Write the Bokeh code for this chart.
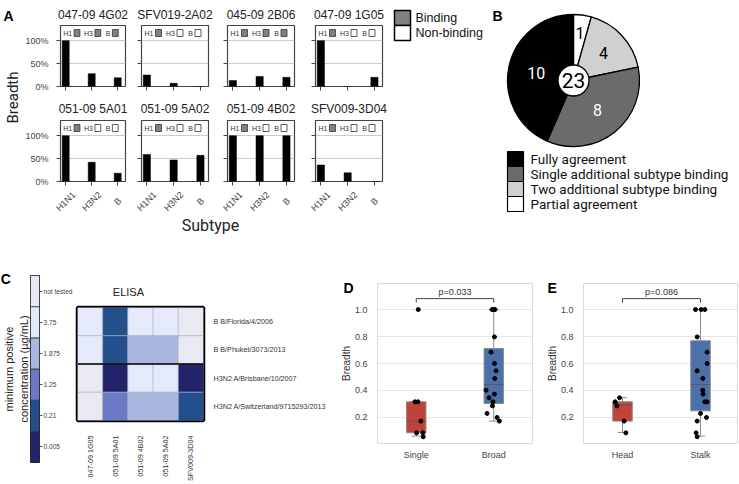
import math
from bokeh.plotting import figure
from bokeh.models import (Range1d, FactorRange, FixedTicker, Label, Span, Title,
                          ColumnDataSource, NumeralTickFormatter)
from bokeh.layouts import row, column
from bokeh.transform import factor_cmap
from bokeh.embed import file_html
from bokeh.resources import INLINE
from bokeh.core.properties import value

FONT = "Liberation Sans"
RFONT = "Roboto"

# ---------------- data ----------------
antibodies = ["047-09 4G02", "SFV019-2A02", "045-09 2B06", "047-09 1G05",
              "051-09 5A01", "051-09 5A02", "051-09 4B02", "SFV009-3D04"]
subtypes = ["H1N1", "H3N2", "B"]
breadth_h1n1 = [1.00, 0.25, 0.13, 1.00, 1.00, 0.59, 1.00, 0.36]
breadth_h3n2 = [0.28, 0.07, 0.22, 0.00, 0.42, 0.47, 1.00, 0.19]
breadth_b = [0.19, 0.00, 0.20, 0.20, 0.18, 0.57, 1.00, 0.00]
strip_labels = ["H1", "H3", "B"]
binding_h1 = [True, True, True, True, True, True, True, True]
binding_h3 = [True, False, True, False, False, False, False, False]
binding_b = [True, False, True, False, False, False, False, False]
binding_legend = ["Binding", "Non-binding"]
binding_colors = ["#808080", "#ffffff"]

agreement_cats = ["Fully agreement", "Single additional subtype binding",
                  "Two additional subtype binding", "Partial agreement"]
agreement_counts = [10, 8, 4, 1]
agreement_colors = ["#000000", "#6b6b6b", "#d0d0d0", "#ffffff"]
agreement_text_colors = ["white", "white", "black", "black"]

conc_levels = ["0.005", "0.21", "1.25", "1.875", "3.75", "not tested"]
conc_colors = ["#22236b", "#244f8d", "#6a7ac4", "#a8b6e0", "#e4eafb", "#e9e9f1"]
elisa_antibodies = ["047-09 1G05", "051-09 5A01", "051-09 4B02", "051-09 5A02", "SFV009-3D04"]
elisa_strains = ["B B/Florida/4/2006", "B B/Phuket/3073/2013",
                 "H3N2 A/Brisbane/10/2007", "H3N2 A/Switzerland/9715293/2013"]
elisa_florida = ["3.75", "0.21", "3.75", "3.75", "not tested"]
elisa_phuket = ["3.75", "0.21", "1.875", "1.875", "not tested"]
elisa_brisbane = ["not tested", "0.005", "3.75", "3.75", "0.005"]
elisa_switzerland = ["not tested", "1.25", "1.875", "1.875", "0.21"]

box_colors = ["#c0433a", "#4b70aa"]
d_cats = ["Single", "Broad"]
d_q1 = [0.086, 0.304]
d_med = [0.173, 0.444]
d_q3 = [0.316, 0.711]
d_lo = [0.062, 0.173]
d_hi = [0.316, 1.000]
d_single_y = [1.0, 0.316, 0.316, 0.173, 0.086, 0.086, 0.057]
d_single_dx = [0.026, -0.017, 0.022, 0.060, 0.004, 0.086, 0.090]
d_broad_y = [1.0, 1.0, 1.0, 0.797, 0.684, 0.600, 0.546, 0.489, 0.402, 0.346,
             0.373, 0.316, 0.286, 0.230, 0.200, 0.173]
d_broad_dx = [-0.022, 0.0, 0.017, 0.009, -0.034, 0.009, 0.030, 0.013, -0.099,
              -0.060, 0.009, -0.009, -0.017, -0.086, 0.043, 0.073]
d_pvalue = "p=0.033"

e_cats = ["Head", "Stalk"]
e_q1 = [0.173, 0.249]
e_med = [0.291, 0.444]
e_q3 = [0.316, 0.768]
e_lo = [0.089, 0.062]
e_hi = [0.346, 1.000]
e_head_y = [0.346, 0.316, 0.286, 0.173, 0.086]
e_head_dx = [-0.038, -0.094, -0.073, 0.021, 0.043]
e_stalk_y = [1.0, 1.0, 1.0, 0.797, 0.684, 0.600, 0.546, 0.489, 0.402, 0.373,
             0.316, 0.316, 0.230, 0.200, 0.173, 0.086, 0.057]
e_stalk_dx = [-0.064, 0.009, 0.056, -0.043, 0.085, 0.085, -0.043, 0.030, 0.030,
              0.034, 0.056, 0.085, 0.0, 0.077, -0.043, -0.056, -0.043]
e_pvalue = "p=0.086"


# ---------------- helpers ----------------
def base_fig(w, h, **kw):
    p = figure(width=w, height=h, output_backend="svg", toolbar_location=None, **kw)
    p.background_fill_color = "white"
    p.border_fill_color = "white"
    p.frame_align = False
    return p


def blank(w, h, xr=None, yr=None):
    p = base_fig(w, h, x_range=xr or Range1d(0, w), y_range=yr or Range1d(h, 0),
                 x_axis_location=None, y_axis_location=None, min_border=0)
    p.grid.visible = False
    p.outline_line_color = None
    return p


def lab(p, x, y, text, size, font=FONT, align="left", baseline="middle", angle=0,
        color="#222222", style="normal"):
    p.add_layout(Label(x=x, y=y, text=text, text_font=font, text_font_size=size,
                       text_align=align, text_baseline=baseline, angle=angle,
                       text_color=color, text_font_style=style))


def outside_text(p, xs, ys, texts, size, style="normal", color="#222222", align="left",
                 baseline="middle", angle=0.0, font=FONT):
    # text glyph on the overlay level, so that it is not clipped to the frame
    p.text(x=xs, y=ys, text=texts, text_font=value(font), text_font_size=size,
           text_font_style=style, text_color=color, text_align=align,
           text_baseline=baseline, angle=angle, level="overlay")


# ---------------- panel A ----------------
FW, FH = 67, 61
XR = (-0.2, 2.3)
YR = (0.0, 1.33)
LBS = [36, 8, 11, 13]


def facet(k):
    r, c = divmod(k, 4)
    lb = LBS[c]
    rb = 8
    tb, bb = (25, 14) if r == 0 else (20, 32)
    p = base_fig(lb + FW + rb, tb + FH + bb, x_range=Range1d(*XR), y_range=Range1d(*YR),
                 min_border_left=lb, min_border_right=rb, min_border_top=tb,
                 min_border_bottom=bb)
    sxu = FW / (XR[1] - XR[0])
    syu = FH / (YR[1] - YR[0])
    idx = list(range(len(subtypes)))
    src = ColumnDataSource(dict(x=idx,
                                top=[breadth_h1n1[k], breadth_h3n2[k], breadth_b[k]]))
    p.vbar(x="x", top="top", width=0.27, source=src, fill_color="black",
           line_color="black", line_width=0.5)

    xa = p.xaxis[0]
    ya = p.yaxis[0]
    xa.ticker = FixedTicker(ticks=idx)
    xa.major_label_overrides = {i: "" for i in idx}
    ya.ticker = FixedTicker(ticks=[0, 0.5, 1])
    if c == 0:
        ya.major_label_overrides = {0: "0%", 0.5: "50%", 1: "100%"}
    else:
        ya.major_label_overrides = {0: "", 0.5: "", 1: ""}
    for ax in (xa, ya):
        ax.axis_line_color = None
        ax.major_tick_out = 4
        ax.major_tick_in = 0
        ax.major_tick_line_color = "#444444"
        ax.minor_tick_line_color = None
        ax.major_label_text_font = FONT
        ax.major_label_text_color = "#444444"
        ax.major_label_standoff = 2
    ya.major_label_standoff = 8
    ya.major_label_text_font_size = "9px"
    p.xgrid.visible = False
    p.ygrid.ticker = FixedTicker(ticks=[0.5, 1])
    p.ygrid.grid_line_color = "#cccccc"
    p.outline_line_color = "#444444"
    p.outline_line_width = 1.2

    # binding strip inside the top of the panel
    sq_px = [17, 38.5, 56.5]
    sq_x = [XR[0] + v / sxu for v in sq_px]
    strip_y = YR[1] - 7.5 / syu
    binds = [binding_h1[k], binding_h3[k], binding_b[k]]
    fills = [binding_colors[0] if b else binding_colors[1] for b in binds]
    p.rect(x=sq_x, y=strip_y, width=6 / sxu, height=7 / syu, fill_color=fills,
           line_color="#333333", line_width=0.8)
    p.text(x=[v - 5 / sxu for v in sq_x], y=[strip_y] * 3, text=strip_labels,
           text_font=value(FONT), text_font_size="7px", text_align="right",
           text_baseline="middle", text_color="#333333")

    # facet title
    outside_text(p, [(XR[0] + XR[1]) / 2], [YR[1] + (11 if r == 0 else 12) / syu],
                 [antibodies[k]], "12px", align="center")
    # rotated subtype labels under the bottom row
    if r == 1:
        outside_text(p, idx, [-20 / syu] * len(idx), subtypes, "9px", color="#444444",
                     align="center", angle=math.pi / 4)
    return p


facets = [facet(k) for k in range(8)]

a_left = blank(22, 258)
lab(a_left, 3, 7, "A", "14px", baseline="top", style="bold", color="black")
lab(a_left, 12, 97, "Breadth", "15px", font=RFONT, align="center", angle=math.pi / 2)

subtype_strip = blank(368, 45)
lab(subtype_strip, 188, 12, "Subtype", "16px", font=RFONT, align="center")

bind_leg = blank(100, 258)
leg_rows = [17.5 + 15 * i for i in range(len(binding_legend))]
bind_leg.rect(x=12, y=leg_rows, width=16, height=15,
              fill_color=binding_colors, line_color="black", line_width=1.5)
bind_leg.text(x=25, y=leg_rows, text=binding_legend,
              text_font=value(FONT), text_font_size="12.5px", text_baseline="middle",
              text_color="#111111")

panel_a = row(a_left,
              column(row(*facets[:4]), row(*facets[4:]), subtype_strip),
              bind_leg)

# ---------------- panel B ----------------
pb = blank(249, 258, xr=Range1d(-83, 166), yr=Range1d(-178, 80))
R = 66
total = sum(agreement_counts)
order = list(reversed(range(len(agreement_cats))))
a0s, a1s, cols = [], [], []
ang = math.pi / 2
for i in order:
    a0s.append(ang)
    ang = ang - 2 * math.pi * agreement_counts[i] / total
    a1s.append(ang)
    cols.append(agreement_colors[i])
pb.wedge(x=0, y=0, radius=R, start_angle=a0s, end_angle=a1s, direction="clock",
         fill_color=cols, line_color="black", line_width=1.3)
lab_r = [48, 41, 38, 38]
tx, ty, tt, tc = [], [], [], []
for j, i in enumerate(order):
    mid = (a0s[j] + a1s[j]) / 2
    tx.append(lab_r[j] * math.cos(mid))
    ty.append(lab_r[j] * math.sin(mid))
    tt.append(str(agreement_counts[i]))
    tc.append(agreement_text_colors[i])
pb.text(x=tx, y=ty, text=tt, text_color=tc, text_font=value(RFONT), text_font_size="16px",
        text_align="center", text_baseline="middle")
pb.circle(x=[0], y=[0], radius=15.5, fill_color="white", line_color="black", line_width=1.3)
pb.text(x=[0], y=[0], text=[str(total)], text_font=value(RFONT), text_font_size="21px",
        text_align="center", text_baseline="middle", text_color="black")
leg_y = [80 - (158.5 + 15 * i) for i in range(len(agreement_cats))]
pb.rect(x=-58, y=leg_y, width=16, height=15, fill_color=agreement_colors,
        line_color="black", line_width=1.2)
pb.text(x=-43, y=leg_y, text=agreement_cats, text_font=value(RFONT),
        text_font_size="13.5px", text_baseline="middle", text_color="#111111")
lab(pb, -81, 73, "B", "14px", baseline="top", style="bold", color="black")

top_row = row(panel_a, pb)

# ---------------- panel C ----------------
cb = base_fig(75, 226, x_range=Range1d(0, 1), y_range=FactorRange(*conc_levels),
              y_axis_location="right", x_axis_location=None,
              min_border_left=30, min_border_right=35, min_border_top=17, min_border_bottom=22)
cb.hbar(y=conc_levels, left=0, right=1, height=1, fill_color=conc_colors,
        line_color="#333333", line_width=0.8)
cb.grid.visible = False
cb.outline_line_color = "#222222"
cya = cb.yaxis[0]
cya.major_label_text_font = FONT
cya.major_label_text_font_size = "6.6px"
cya.major_label_text_color = "#444444"
cya.major_tick_out = 3
cya.major_tick_in = 0
cya.major_tick_line_color = "#555555"
cya.axis_line_color = None
cya.major_label_standoff = 1
for txt, so in (("concentration (\u00b5g/mL)", 2), ("minimum positive", 0)):
    cb.add_layout(Title(text=txt, align="center", text_font=FONT, text_font_size="11px",
                        text_font_style="normal", text_color="#222222", standoff=so), "left")
outside_text(cb, [-3.3], [6.14], ["C"], "14px", style="bold", color="black", baseline="top")

hm = base_fig(255, 226, x_range=FactorRange(*elisa_antibodies),
              y_range=FactorRange(*reversed(elisa_strains)), y_axis_location="right",
              min_border_left=2, min_border_right=127, min_border_top=49, min_border_bottom=62)
hx, hy, hl = [], [], []
for strain, levels in zip(elisa_strains, [elisa_florida, elisa_phuket, elisa_brisbane,
                                          elisa_switzerland]):
    for ab, lv in zip(elisa_antibodies, levels):
        hx.append(ab)
        hy.append(strain)
        hl.append(lv)
hsrc = ColumnDataSource(dict(ab=hx, strain=hy, level=hl))
hm.rect(x="ab", y="strain", width=1, height=1, source=hsrc,
        fill_color=factor_cmap("level", conc_colors, conc_levels),
        line_color="#a9aec4", line_width=0.6)
hm.add_layout(Span(location=2, dimension="width", line_color="black", line_width=1.5))
hm.grid.visible = False
hm.outline_line_color = "black"
hm.outline_line_width = 3.5
for ax in (hm.xaxis[0], hm.yaxis[0]):
    ax.major_tick_line_color = None
    ax.minor_tick_line_color = None
    ax.axis_line_color = None
    ax.major_label_text_font = FONT
    ax.major_label_text_font_size = "7.2px"
    ax.major_label_text_color = "#333333"
hm.yaxis[0].major_label_standoff = 4
hm.xaxis[0].major_label_standoff = 9
hm.xaxis[0].major_label_orientation = math.pi / 2
outside_text(hm, [2.02], [4.557], ["ELISA"], "11px", align="center")

# ---------------- panels D, E ----------------
LC = "#8a8a8a"


def boxpanel(letter, cats, q1, med, q3, lo, hi, groups, pval, w, lb, rb, ux, letter_dx):
    fw = w - lb - rb
    xr1 = -0.5 + fw / ux
    p = base_fig(w, 226, x_range=Range1d(-0.5, xr1), y_range=Range1d(0.007, 1.193),
                 min_border_left=lb, min_border_right=rb, min_border_top=25,
                 min_border_bottom=41)
    idx = list(range(len(cats)))
    bw = 0.25
    cw = 0.06
    p.segment(x0=idx, x1=idx, y0=q3, y1=hi, line_color=LC, line_width=1)
    p.segment(x0=idx, x1=idx, y0=lo, y1=q1, line_color=LC, line_width=1)
    p.segment(x0=[i - cw for i in idx], x1=[i + cw for i in idx], y0=hi, y1=hi,
              line_color=LC, line_width=1)
    p.segment(x0=[i - cw for i in idx], x1=[i + cw for i in idx], y0=lo, y1=lo,
              line_color=LC, line_width=1)
    p.vbar(x=idx, bottom=q1, top=q3, width=bw, fill_color=box_colors, line_color=LC,
           line_width=1)
    p.segment(x0=[i - bw / 2 for i in idx], x1=[i + bw / 2 for i in idx], y0=med, y1=med,
              line_color="#5a5a5a", line_width=1)
    xs, ys = [], []
    for i, (gy, gdx) in enumerate(groups):
        xs += [i + d for d in gdx]
        ys += gy
    p.scatter(x=xs, y=ys, size=4, fill_color="black", line_color="black")
    yb, yt = 1.081, 1.052
    p.multi_line(xs=[[0, 0, 1, 1]], ys=[[yt, yb, yb, yt]], line_color="#444444", line_width=1)
    p.text(x=[0.5], y=[yb + 0.01], text=[pval], text_font=value(FONT), text_font_size="9px",
           text_align="center", text_baseline="bottom", text_color="#333333")

    xa = p.xaxis[0]
    ya = p.yaxis[0]
    xa.ticker = FixedTicker(ticks=idx)
    xa.major_label_overrides = {i: c for i, c in enumerate(cats)}
    ya.ticker = FixedTicker(ticks=[0.2, 0.4, 0.6, 0.8, 1.0])
    ya.formatter = NumeralTickFormatter(format="0.0")
    for ax in (xa, ya):
        ax.axis_line_color = None
        ax.major_tick_line_color = None
        ax.minor_tick_line_color = None
        ax.major_label_text_font = FONT
        ax.major_label_text_font_size = "9px"
        ax.major_label_text_color = "#444444"
    xa.major_label_standoff = 0
    ya.major_label_standoff = 4
    ya.axis_label = "Breadth"
    ya.axis_label_text_font = FONT
    ya.axis_label_text_font_size = "10px"
    ya.axis_label_text_font_style = "normal"
    ya.axis_label_text_color = "#333333"
    ya.axis_label_standoff = 0
    p.xgrid.visible = False
    p.ygrid.ticker = FixedTicker(ticks=[0.2, 0.4, 0.6, 0.8, 1.0])
    p.ygrid.grid_line_color = "#e6e6e6"
    p.outline_line_color = "#d9d9d9"
    p.outline_line_width = 1
    outside_text(p, [-0.5 - letter_dx / ux], [1.163], [letter], "14px", style="bold",
                 color="black")
    return p


pd_ = boxpanel("D", d_cats, d_q1, d_med, d_q3, d_lo, d_hi,
               [(d_single_y, d_single_dx), (d_broad_y, d_broad_dx)], d_pvalue,
               210, 47, 8, 77.5, 34)
pe_ = boxpanel("E", e_cats, e_q1, e_med, e_q3, e_lo, e_hi,
               [(e_head_y, e_head_dx), (e_stalk_y, e_stalk_dx)], e_pvalue,
               199, 43, 2, 78, 36)

bottom_row = row(cb, hm, pd_, pe_)
layout = column(top_row, bottom_row)

open("out.html", "w").write(file_html(layout, INLINE))
